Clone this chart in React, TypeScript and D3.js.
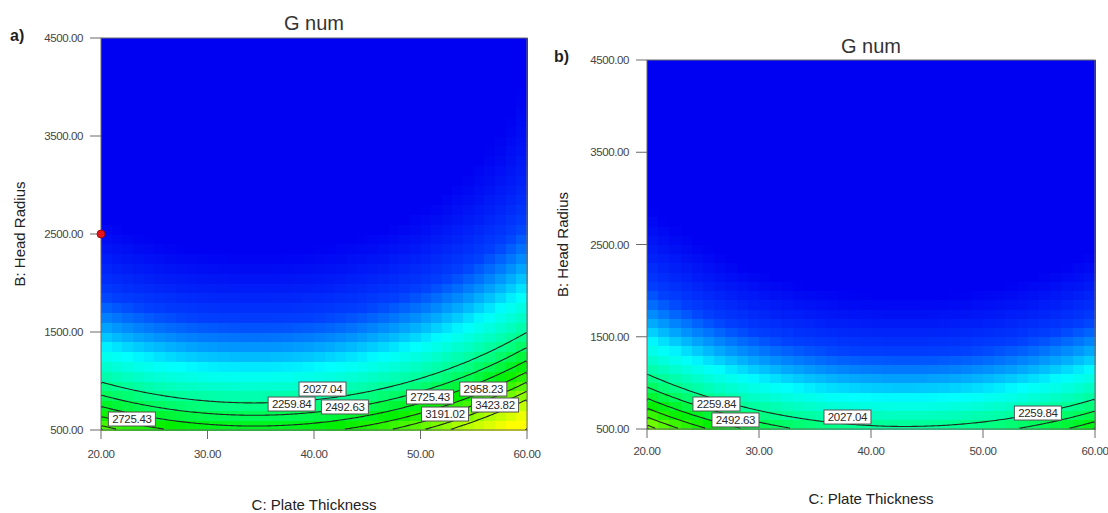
import React, { useEffect, useRef } from "react";
import * as d3 from "d3";

// axis ticks
const plateTicks = [20, 30, 40, 50, 60];
const radiusTicks = [500, 1500, 2500, 3500, 4500];
const contourLevels = [2027.04, 2259.84, 2492.63, 2725.43, 2958.23, 3191.02, 3423.82];

// ln(G num) surface in coded factors: [const, C, B, C^2, B^2]
const surfaceA = [6.515, 0.189, -0.913, 0.339, 0.456];
const surfaceB = [6.309, -0.107, -0.892, 0.352, 0.446];

// contour labels (level, plate thickness, head radius)
const labelsA = [
  { level: 2027.04, c: 40.8, b: 918 },
  { level: 2259.84, c: 37.9, b: 765 },
  { level: 2492.63, c: 42.9, b: 735 },
  { level: 2725.43, c: 22.9, b: 612 },
  { level: 2725.43, c: 50.9, b: 837 },
  { level: 2958.23, c: 55.9, b: 918 },
  { level: 3191.02, c: 52.3, b: 663 },
  { level: 3423.82, c: 57.0, b: 755 },
];
const labelsB = [
  { level: 2259.84, c: 26.2, b: 771 },
  { level: 2492.63, c: 27.9, b: 598 },
  { level: 2027.04, c: 37.9, b: 630 },
  { level: 2259.84, c: 54.9, b: 673 },
];
const designPointsA = [{ c: 20, b: 2500 }];

const colorDomain = [720, 1080, 1560, 2100, 2600, 3400, 4000];
const colorRange = ["#0000f2", "#0040ff", "#00ffff", "#00ff80", "#00f000", "#b0ff00", "#ffff00"];

const font = "'Liberation Sans', Arial, sans-serif";

const panels = [
  {
    tag: "a)", coef: surfaceA, labels: labelsA, points: designPointsA,
    x0: 101, x1: 527, y0: 38, y1: 430,
    titleY: 30, tagX: 10, tagY: 41, xTitleY: 510, yTitleX: 25, tickLabelDy: 28,
  },
  {
    tag: "b)", coef: surfaceB, labels: labelsB, points: [],
    x0: 647, x1: 1095, y0: 60, y1: 429,
    titleY: 53, tagX: 554, tagY: 62, xTitleY: 504, yTitleX: 568, tickLabelDy: 26,
  },
];

const gnum = (coef, C, B) => {
  const c = (C - 40) / 20;
  const b = (B - 2500) / 2000;
  return Math.exp(coef[0] + coef[1] * c + coef[2] * b + coef[3] * c * c + coef[4] * b * b);
};

const App = () => {
  const ref = useRef(null);

  useEffect(() => {
    const svg = d3.select(ref.current);
    svg.selectAll("*").remove();

    const color = d3
      .scaleLinear()
      .domain(colorDomain)
      .range(colorRange)
      .interpolate(d3.interpolateRgb)
      .clamp(true);

    panels.forEach((p, pi) => {
      const xScale = d3.scaleLinear().domain([20, 60]).range([p.x0, p.x1]);
      const yScale = d3.scaleLinear().domain([500, 4500]).range([p.y1, p.y0]);
      const w = p.x1 - p.x0;
      const h = p.y1 - p.y0;
      const g = svg.append("g");

      // heat map cells
      const cells = 40;
      const cw = 40 / cells;
      const ch = 4000 / cells;
      const cellData = [];
      for (let j = 0; j < cells; j++) {
        for (let i = 0; i < cells; i++) {
          const C = 20 + i * cw;
          const B = 500 + j * ch;
          cellData.push({ C, B, v: gnum(p.coef, C + cw / 2, B + ch / 2) });
        }
      }
      g.append("g")
        .attr("shape-rendering", "crispEdges")
        .selectAll("rect")
        .data(cellData)
        .enter()
        .append("rect")
        .attr("x", (d) => xScale(d.C))
        .attr("y", (d) => yScale(d.B + ch))
        .attr("width", (d) => xScale(d.C + cw) - xScale(d.C) + 0.5)
        .attr("height", (d) => yScale(d.B) - yScale(d.B + ch) + 0.5)
        .attr("fill", (d) => color(d.v));

      // contour lines
      const n = 200;
      const m = 200;
      const vals = new Array(n * m);
      for (let j = 0; j < m; j++) {
        const B = 4500 - ((j + 0.5) / m) * 4000;
        for (let i = 0; i < n; i++) {
          const C = 20 + ((i + 0.5) / n) * 40;
          vals[j * n + i] = gnum(p.coef, C, B);
        }
      }
      const polys = d3.contours().size([n, m]).thresholds(contourLevels)(vals);
      const eps = 1e-6;
      const onEdge = (a, b) =>
        (a[0] <= eps && b[0] <= eps) ||
        (a[0] >= n - eps && b[0] >= n - eps) ||
        (a[1] <= eps && b[1] <= eps) ||
        (a[1] >= m - eps && b[1] >= m - eps);
      const toPx = (pt) => [p.x0 + (pt[0] / n) * w, p.y0 + (pt[1] / m) * h];
      const runs = [];
      polys.forEach((mp) => {
        mp.coordinates.forEach((poly) => {
          poly.forEach((ring) => {
            let run = [];
            for (let k = 0; k < ring.length - 1; k++) {
              const a = ring[k];
              const b = ring[k + 1];
              if (onEdge(a, b)) {
                if (run.length > 1) runs.push(run);
                run = [];
              } else {
                if (run.length === 0) run.push(toPx(a));
                run.push(toPx(b));
              }
            }
            if (run.length > 1) runs.push(run);
          });
        });
      });
      const clipId = "clip" + pi;
      svg.append("clipPath").attr("id", clipId)
        .append("rect").attr("x", p.x0).attr("y", p.y0).attr("width", w).attr("height", h);
      g.append("g")
        .attr("clip-path", `url(#${clipId})`)
        .selectAll("path")
        .data(runs)
        .enter()
        .append("path")
        .attr("d", (d) => d3.line()(d))
        .attr("fill", "none")
        .attr("stroke", "#1e2a22")
        .attr("stroke-width", 1.1);

      // frame
      g.append("rect")
        .attr("x", p.x0).attr("y", p.y0).attr("width", w).attr("height", h)
        .attr("fill", "none").attr("stroke", "#6a6a6a").attr("stroke-width", 1);

      // axes
      const yAxis = g.append("g");
      yAxis.selectAll("line").data(radiusTicks).enter().append("line")
        .attr("x1", p.x0 - 11).attr("x2", p.x0)
        .attr("y1", (d) => yScale(d)).attr("y2", (d) => yScale(d))
        .attr("stroke", "#6a6a6a");
      yAxis.selectAll("text").data(radiusTicks).enter().append("text")
        .attr("x", p.x0 - 18).attr("y", (d) => yScale(d)).attr("dy", "0.35em")
        .attr("text-anchor", "end")
        .style("font", `11.5px ${font}`).style("letter-spacing", "-0.4px")
        .attr("fill", "#444")
        .text((d) => d3.format(".2f")(d));

      const xAxis = g.append("g");
      xAxis.selectAll("line").data(plateTicks).enter().append("line")
        .attr("x1", (d) => xScale(d)).attr("x2", (d) => xScale(d))
        .attr("y1", p.y1).attr("y2", p.y1 + 9)
        .attr("stroke", "#6a6a6a");
      xAxis.selectAll("text").data(plateTicks).enter().append("text")
        .attr("x", (d) => xScale(d)).attr("y", p.y1 + p.tickLabelDy)
        .attr("text-anchor", "middle")
        .style("font", `11.5px ${font}`).style("letter-spacing", "-0.4px")
        .attr("fill", "#444")
        .text((d) => d3.format(".2f")(d));

      // contour labels
      const lab = g.append("g").selectAll("g").data(p.labels).enter().append("g")
        .attr("transform", (d) => `translate(${xScale(d.c)},${yScale(d.b)})`);
      lab.append("rect")
        .attr("x", -23.5).attr("y", -7).attr("width", 47).attr("height", 14)
        .attr("fill", "#ffffff").attr("stroke", "#555").attr("stroke-width", 1);
      lab.append("text")
        .attr("text-anchor", "middle").attr("dy", "0.36em")
        .style("font", `11.5px ${font}`).style("letter-spacing", "-0.3px")
        .attr("fill", "#2a2a2a")
        .text((d) => d.level.toFixed(2));

      // design points
      g.selectAll("circle").data(p.points).enter().append("circle")
        .attr("cx", (d) => xScale(d.c)).attr("cy", (d) => yScale(d.b))
        .attr("r", 4).attr("fill", "#e8141a").attr("stroke", "#8a0a0a").attr("stroke-width", 0.8);

      // titles
      g.append("text")
        .attr("x", (p.x0 + p.x1) / 2).attr("y", p.titleY)
        .attr("text-anchor", "middle")
        .style("font", `20px ${font}`).attr("fill", "#333")
        .text("G num");
      g.append("text")
        .attr("x", p.tagX).attr("y", p.tagY)
        .style("font", `bold 16px ${font}`).attr("fill", "#1f1f1f")
        .text(p.tag);
      g.append("text")
        .attr("x", (p.x0 + p.x1) / 2).attr("y", p.xTitleY)
        .attr("text-anchor", "middle")
        .style("font", `15px ${font}`).attr("fill", "#222")
        .text("C: Plate Thickness");
      g.append("text")
        .attr("transform", `translate(${p.yTitleX},${(p.y0 + p.y1) / 2}) rotate(-90)`)
        .attr("text-anchor", "middle")
        .style("font", `15px ${font}`).attr("fill", "#222")
        .text("B: Head Radius");
    });
  }, []);

  return (
    <div style={{ position: "fixed", left: 0, top: 0, width: 1108, height: 513, background: "#fff" }}>
      <svg ref={ref} width={1108} height={513} style={{ display: "block" }} />
    </div>
  );
};

export default App;
